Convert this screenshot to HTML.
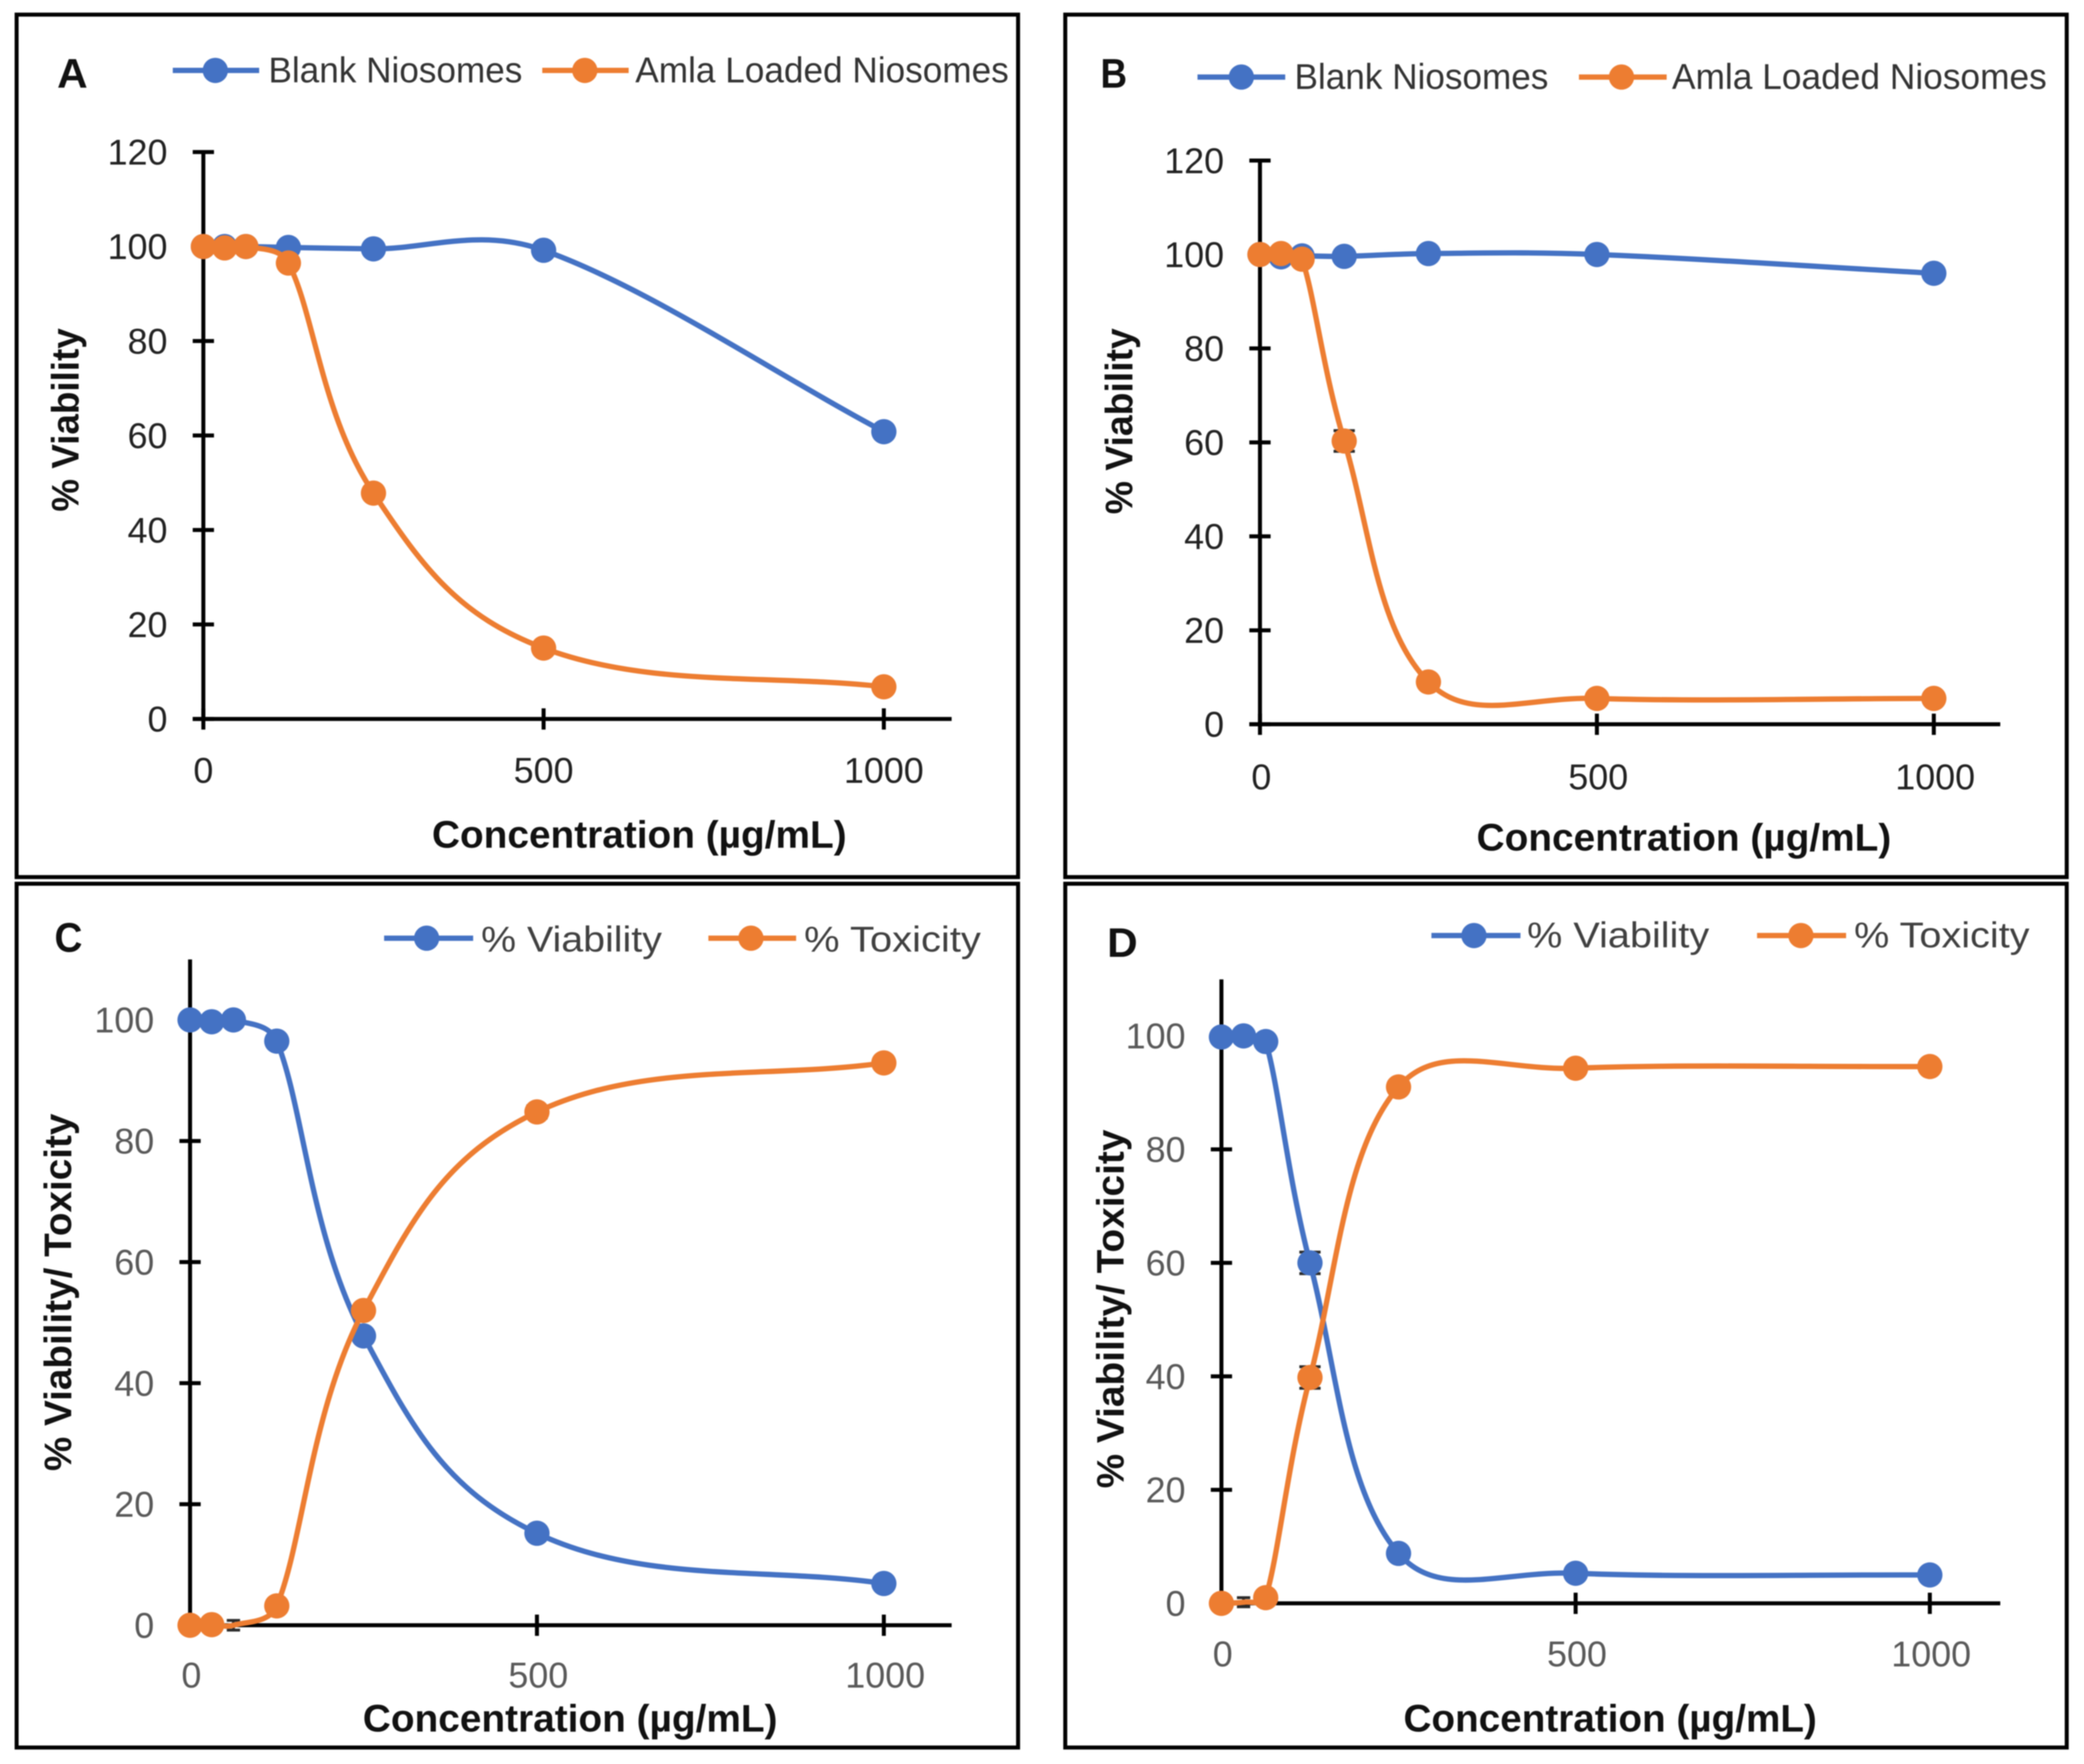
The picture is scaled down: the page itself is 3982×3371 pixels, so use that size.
<!DOCTYPE html>
<html lang="en">
<head>
<meta charset="utf-8">
<title>Viability and toxicity of niosomes</title>
<style>
html,body{margin:0;padding:0;background:#fff;}
svg{display:block;width:3982px;height:3371px;filter:blur(1px);}
text{font-family:"Liberation Sans",sans-serif;}
.tick{font-size:27px;}
.leg{font-size:27px;}
.ttl{font-size:29px;font-weight:bold;fill:#111;}
.let{font-size:31px;font-weight:bold;fill:#111;}
</style>
</head>
<body>
<svg id="figure" xmlns="http://www.w3.org/2000/svg" viewBox="0 0 1568 1327.4" preserveAspectRatio="none">
<rect x="0" y="0" width="1568" height="1328" fill="#fff"/>

<g>
<rect x="12.5" y="11" width="753.5" height="649" fill="none" stroke="#000" stroke-width="3"/>
<text class="let" x="43" y="66" textLength="23" lengthAdjust="spacingAndGlyphs">A</text>
<g><line x1="130" x2="195" y1="53" y2="53" stroke="#4472C4" stroke-width="4"/><circle cx="162" cy="53" r="9.5" fill="#4472C4"/><text class="leg" fill="#333" x="202" y="62" textLength="191" lengthAdjust="spacingAndGlyphs">Blank Niosomes</text></g>
<g><line x1="408" x2="473" y1="53" y2="53" stroke="#ED7D31" stroke-width="4"/><circle cx="440" cy="53" r="9.5" fill="#ED7D31"/><text class="leg" fill="#333" x="478" y="62" textLength="281" lengthAdjust="spacingAndGlyphs">Amla Loaded Niosomes</text></g>
<text class="ttl" x="325" y="638" textLength="312" lengthAdjust="spacingAndGlyphs">Concentration (µg/mL)</text>
<text class="ttl" transform="translate(59,385) rotate(-90)" x="0" y="0" textLength="138" lengthAdjust="spacingAndGlyphs">% Viability</text>
</g>

<g>
<rect x="801.5" y="11" width="753.5" height="649" fill="none" stroke="#000" stroke-width="3"/>
<text class="let" x="828" y="66" textLength="20" lengthAdjust="spacingAndGlyphs">B</text>
<g><line x1="901" x2="967" y1="58" y2="58" stroke="#4472C4" stroke-width="4"/><circle cx="934" cy="58" r="9.5" fill="#4472C4"/><text class="leg" fill="#333" x="974" y="67" textLength="191" lengthAdjust="spacingAndGlyphs">Blank Niosomes</text></g>
<g><line x1="1188" x2="1254" y1="58" y2="58" stroke="#ED7D31" stroke-width="4"/><circle cx="1220" cy="58" r="9.5" fill="#ED7D31"/><text class="leg" fill="#333" x="1258" y="67" textLength="282" lengthAdjust="spacingAndGlyphs">Amla Loaded Niosomes</text></g>
<text class="ttl" x="1111" y="640" textLength="312" lengthAdjust="spacingAndGlyphs">Concentration (µg/mL)</text>
<text class="ttl" transform="translate(852,387) rotate(-90)" x="0" y="0" textLength="140" lengthAdjust="spacingAndGlyphs">% Viability</text>
</g>

<g>
<rect x="12.5" y="665" width="753.5" height="650" fill="none" stroke="#000" stroke-width="3"/>
<text class="let" x="41" y="716" textLength="21" lengthAdjust="spacingAndGlyphs">C</text>
<g><line x1="289" x2="356" y1="706" y2="706" stroke="#4472C4" stroke-width="4"/><circle cx="321" cy="706" r="9.5" fill="#4472C4"/><text class="leg" fill="#404040" x="362" y="716" textLength="136" lengthAdjust="spacingAndGlyphs">% Viability</text></g>
<g><line x1="533" x2="599" y1="706" y2="706" stroke="#ED7D31" stroke-width="4"/><circle cx="565" cy="706" r="9.5" fill="#ED7D31"/><text class="leg" fill="#404040" x="605" y="716" textLength="133" lengthAdjust="spacingAndGlyphs">% Toxicity</text></g>
<text class="ttl" x="273" y="1303" textLength="312" lengthAdjust="spacingAndGlyphs">Concentration (µg/mL)</text>
<text class="ttl" transform="translate(53.5,1107) rotate(-90)" x="0" y="0" textLength="269" lengthAdjust="spacingAndGlyphs">% Viability/ Toxicity</text>
</g>

<g>
<rect x="801.5" y="665" width="753.5" height="650" fill="none" stroke="#000" stroke-width="3"/>
<text class="let" x="833" y="720" textLength="23" lengthAdjust="spacingAndGlyphs">D</text>
<g><line x1="1077" x2="1144" y1="704" y2="704" stroke="#4472C4" stroke-width="4"/><circle cx="1109" cy="704" r="9.5" fill="#4472C4"/><text class="leg" fill="#404040" x="1149" y="713" textLength="137" lengthAdjust="spacingAndGlyphs">% Viability</text></g>
<g><line x1="1322" x2="1389" y1="704" y2="704" stroke="#ED7D31" stroke-width="4"/><circle cx="1355" cy="704" r="9.5" fill="#ED7D31"/><text class="leg" fill="#404040" x="1395" y="713" textLength="132" lengthAdjust="spacingAndGlyphs">% Toxicity</text></g>
<text class="ttl" x="1056" y="1303" textLength="311" lengthAdjust="spacingAndGlyphs">Concentration (µg/mL)</text>
<text class="ttl" transform="translate(845.5,1120) rotate(-90)" x="0" y="0" textLength="270" lengthAdjust="spacingAndGlyphs">% Viability/ Toxicity</text>
</g>
</svg>

<script>
// Shared categories and tick labels
const concentrations = [0, 31.25, 62.5, 125, 250, 500, 1000];
const xTicks = [0, 500, 1000];
const yTicksAB = [0, 20, 40, 60, 80, 100, 120];
const yTicksCD = [0, 20, 40, 60, 80, 100];

// Panel A values
const blankA = [100, 100, 100, 99.8, 99.5, 99.2, 60.8];
const amlaA = [100, 99.7, 100, 96.5, 47.8, 15, 6.8];
// Panel B values
const blankB = [100, 99.5, 99.7, 99.6, 100.2, 100, 96];
const amlaB = [100, 100.2, 99, 60.3, 9, 5.5, 5.5];
const amlaErrB = [0, 0, 0, 2.2, 0, 0, 0];
// Panel C values
const viabilityC = [100, 99.7, 100, 96.5, 47.8, 15.2, 6.9];
const toxicityC = [0, 0.1, 0, 3.2, 52, 84.8, 92.9];
const toxicityErrC = [0, 0, 0.8, 0, 0, 1, 0];
const toxicityShownC = [1, 1, 0, 1, 1, 1, 1];
// Panel D values
const viabilityD = [99.8, 100, 99, 60, 8.8, 5.3, 5];
const toxicityD = [0, 0.2, 1, 39.8, 91, 94.3, 94.6];
const viabilityErrD = [0, 0, 0, 1.9, 0, 0, 0];
const toxicityErrD = [0, 0.8, 0, 1.9, 0, 0, 0];
const toxicityShownD = [1, 0, 1, 1, 1, 1, 1];

const NS = 'http://www.w3.org/2000/svg';
const root = document.getElementById('figure');
const BLUE = '#4472C4';
const ORANGE = '#ED7D31';
const TENSION = 0.41;

function make(tag, attrs, parent) {
  const el = document.createElementNS(NS, tag);
  for (const k in attrs) el.setAttribute(k, attrs[k]);
  parent.appendChild(el);
  return el;
}

// Excel-style smoothed line through pixel points
function smoothPath(pts) {
  const dist = (a, b) => Math.hypot(b[0] - a[0], b[1] - a[1]);
  let d = 'M' + pts[0][0].toFixed(2) + ' ' + pts[0][1].toFixed(2);
  for (let i = 0; i < pts.length - 1; i++) {
    const p0 = pts[i - 1], p1 = pts[i], p2 = pts[i + 1], p3 = pts[i + 2];
    const d12 = dist(p1, p2);
    let c1, c2;
    if (p0) {
      const w = Math.min(0.5, d12 / (dist(p0, p1) + d12 || 1)) * TENSION;
      c1 = [p1[0] + (p2[0] - p0[0]) * w, p1[1] + (p2[1] - p0[1]) * w];
    } else {
      c1 = [p1[0] + (p2[0] - p1[0]) / 3, p1[1] + (p2[1] - p1[1]) / 3];
    }
    if (p3) {
      const w = Math.min(0.5, d12 / (dist(p2, p3) + d12 || 1)) * TENSION;
      c2 = [p2[0] - (p3[0] - p1[0]) * w, p2[1] - (p3[1] - p1[1]) * w];
    } else {
      c2 = [p2[0] - (p2[0] - p1[0]) / 3, p2[1] - (p2[1] - p1[1]) / 3];
    }
    d += 'C' + c1[0].toFixed(2) + ' ' + c1[1].toFixed(2) + ' ' + c2[0].toFixed(2) + ' ' + c2[1].toFixed(2) + ' ' + p2[0].toFixed(2) + ' ' + p2[1].toFixed(2);
  }
  return d;
}

function drawAxes(p) {
  const sx = v => p.x0 + (p.x1000 - p.x0) * v / 1000;
  const sy = v => p.y0 + (p.y100 - p.y0) * v / 100;
  const g = make('g', {}, root);
  
  

  const yAxis = make('line', { x1: sx(0), x2: sx(0), y1: p.yTop, y2: p.y0 + 1.5, stroke: '#000', 'stroke-width': 3 }, g);
  
  
  const xAxis = make('line', { x1: sx(0) - (p.leftStub || 0), x2: p.xEnd, y1: p.y0, y2: p.y0, stroke: '#000', 'stroke-width': 3 }, g);
  
  

  p.yTicks.forEach(v => {
    const t = make('line', { x1: sx(0) - 8, x2: sx(0) + 8, y1: sy(v), y2: sy(v), stroke: '#000', 'stroke-width': 3 }, g);
    
    
    const l = make('text', { x: p.yLabelRight, y: sy(v) + 9.5, 'text-anchor': 'end', class: 'tick', fill: p.tickColor }, g);
    
    
    l.textContent = String(v);
  });
  xTicks.forEach(v => {
    const t = make('line', { x1: sx(v), x2: sx(v), y1: p.y0 - 8, y2: p.y0 + 8, stroke: '#000', 'stroke-width': 3 }, g);
    
    
    const l = make('text', { x: sx(v) + p.xLabelShift, y: p.xLabelY, 'text-anchor': 'middle', class: 'tick', fill: p.tickColor }, g);
    
    
    l.textContent = String(v);
  });
}

function drawSeries(p, name, values, color, errors, shown) {
  const sx = v => p.x0 + (p.x1000 - p.x0) * v / 1000;
  const sy = v => p.y0 + (p.y100 - p.y0) * v / 100;
  const g = make('g', {}, root);
  
  

  const pts = concentrations.map((c, i) => [sx(c), sy(values[i])]);

  pts.forEach((pt, i) => {
    const err = errors ? errors[i] : 0;
    if (err > 0) {
      const hi = sy(values[i] + err), lo = sy(values[i] - err);
      const cap = (shown && !shown[i]) ? 5 : 8;
      const e = make('path', {
        d: 'M' + pt[0] + ' ' + hi + 'V' + lo + 'M' + (pt[0] - cap) + ' ' + hi + 'H' + (pt[0] + cap) + 'M' + (pt[0] - cap) + ' ' + lo + 'H' + (pt[0] + cap),
        stroke: '#2b2b2b', 'stroke-width': 2.2, fill: 'none'
      }, g);
      
      
    }
  });

  const line = make('path', { d: smoothPath(pts), fill: 'none', stroke: color, 'stroke-width': 4, 'stroke-linejoin': 'round', 'stroke-linecap': 'round' }, g);
  
  

  pts.forEach((pt, i) => {
    if (!shown || shown[i]) {
      const m = make('circle', { cx: pt[0], cy: pt[1], r: 9.5, fill: color }, g);
      
      
    }
  });
}

const panelA = { id: 'a', x0: 153, x1000: 665, xEnd: 716, y0: 541, y100: 185.5, yTop: 114, yTicks: yTicksAB, yLabelRight: 126, xLabelY: 589, xLabelShift: 0, tickColor: '#222', leftStub: 8 };
const panelB = { id: 'b', x0: 948, x1000: 1455, xEnd: 1505, y0: 545, y100: 191.5, yTop: 121, yTicks: yTicksAB, yLabelRight: 921, xLabelY: 594, xLabelShift: 1, tickColor: '#222', leftStub: 8 };
const panelC = { id: 'c', x0: 143, x1000: 665, xEnd: 716, y0: 1223, y100: 767.5, yTop: 722, yTicks: yTicksCD, yLabelRight: 116, xLabelY: 1270, xLabelShift: 1, tickColor: '#595959', leftStub: 0 };
const panelD = { id: 'd', x0: 919, x1000: 1452, xEnd: 1505, y0: 1206.5, y100: 779.5, yTop: 737, yTicks: yTicksCD, yLabelRight: 892, xLabelY: 1254, xLabelShift: 1, tickColor: '#595959', leftStub: 0 };

drawAxes(panelA);
drawSeries(panelA, 'blank-niosomes', blankA, BLUE);
drawSeries(panelA, 'amla-loaded-niosomes', amlaA, ORANGE);

drawAxes(panelB);
drawSeries(panelB, 'blank-niosomes', blankB, BLUE);
drawSeries(panelB, 'amla-loaded-niosomes', amlaB, ORANGE, amlaErrB);

drawAxes(panelC);
drawSeries(panelC, 'viability', viabilityC, BLUE);
drawSeries(panelC, 'toxicity', toxicityC, ORANGE, toxicityErrC, toxicityShownC);

drawAxes(panelD);
drawSeries(panelD, 'viability', viabilityD, BLUE, viabilityErrD);
drawSeries(panelD, 'toxicity', toxicityD, ORANGE, toxicityErrD, toxicityShownD);
</script>
</body>
</html>
